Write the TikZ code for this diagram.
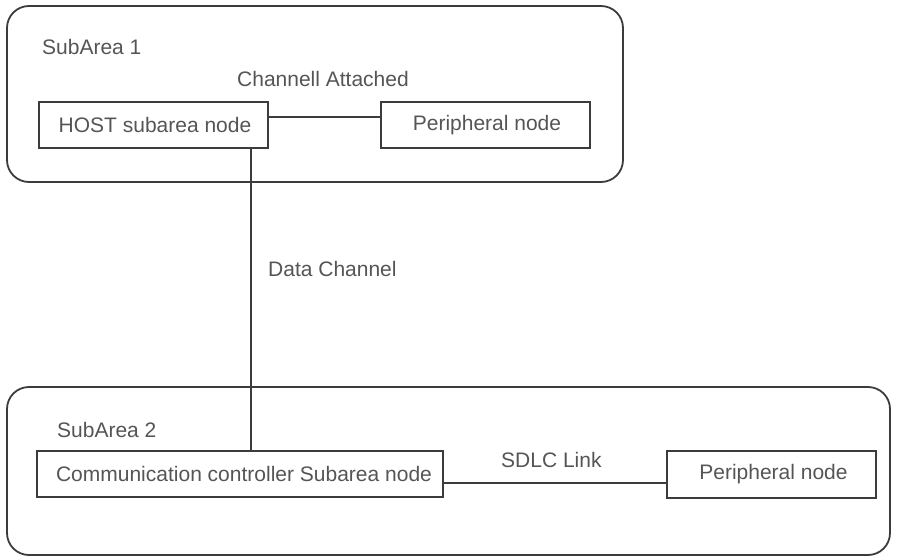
\documentclass[tikz,border=0pt]{standalone}
\usepackage{fontspec}
\setmainfont{Liberation Sans}
\definecolor{linecol}{HTML}{3C3C3C}
\definecolor{textcol}{HTML}{555555}
\tikzset{
  area/.style={draw=linecol, line width=1.8pt, rounded corners=22pt, minimum width=#1, inner sep=0pt, outer sep=0pt},
  nodebox/.style={draw=linecol, line width=1.8pt, inner sep=0pt, outer sep=0pt, minimum height=46pt, text=textcol, font=\fontsize{21pt}{24pt}\selectfont},
  lbl/.style={anchor=base west, inner sep=0pt, text=textcol, font=\fontsize{21pt}{24pt}\selectfont},
  link/.style={draw=linecol, line width=1.8pt}
}
\begin{document}
\begin{tikzpicture}[x=1pt,y=-1pt]
\useasboundingbox (0,0) rectangle (897,559);
% subarea frames
\node[area=616pt, minimum height=176pt] (sa1) at (315,94) {};
\node[area=883pt, minimum height=168pt] (sa2) at (448.5,471) {};
% nodes
\node[nodebox, minimum width=229pt] (host) at (153.5,125) {\hspace{3pt}HOST subarea node};
\node[nodebox, minimum width=209pt] (per1) at (485.5,125) {\hspace{3pt}Peripheral node};
\node[nodebox, minimum width=406pt] (comm) at (240,474) {\hspace{8pt}Communication controller Subarea node};
\node[nodebox, minimum width=209pt, minimum height=47pt] (per2) at (771.5,474.5) {\hspace{4pt}Peripheral node};
% labels
\node[lbl] (l1) at (42,55) {SubArea 1};
\node[lbl] (l2) at (237,87) {Channell Attached};
\node[lbl] (l3) at (268,276) {Data Channel};
\node[lbl] (l4) at (57,437) {SubArea 2};
\node[lbl] (l5) at (501,467) {SDLC Link};
% connectors
\draw[link] ([yshift=8pt]host.east) -- ([yshift=8pt]per1.west);
\coordinate (vtop) at ([xshift=97.5pt]host.south);
\draw[link] (vtop) -- (vtop |- comm.north);
\draw[link] ([yshift=-9pt]comm.east) -- ([yshift=-9pt]comm.east -| per2.west);
\end{tikzpicture}
\end{document}
